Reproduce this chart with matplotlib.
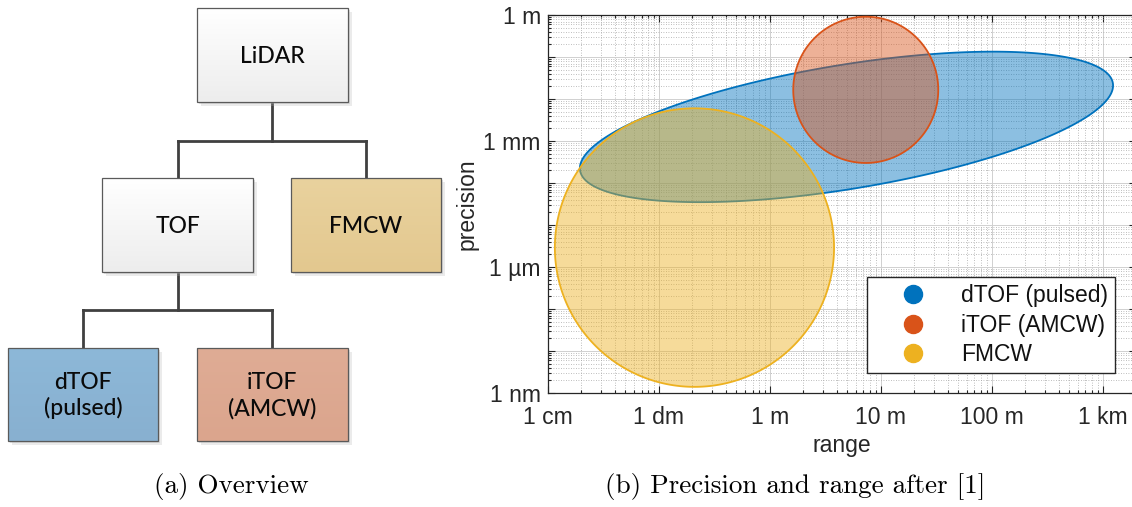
import numpy as np
import matplotlib
matplotlib.use("Agg")
import matplotlib.pyplot as plt
from matplotlib.patches import Rectangle
from matplotlib.lines import Line2D
from matplotlib.colors import LinearSegmentedColormap, to_rgba
from matplotlib.ticker import FixedLocator, LogLocator, NullFormatter, FuncFormatter

# ---------------- data ----------------
techs = ['dTOF (pulsed)', 'iTOF (AMCW)', 'FMCW']
tech_colors = ['#0072BD', '#D95319', '#EDB120']
range_min_m = [0.0195, 1.63, 0.0116]
range_max_m = [1240.0, 33.0, 3.8]
precision_min_m = [3.5e-5, 3.0e-4, 1.4e-9]
precision_max_m = [0.134, 0.91, 6.0e-3]
tilt = [0.55, 0.0, 0.0]

x_tick_values = [0.01, 0.1, 1, 10, 100, 1000]
x_tick_labels = ['1 cm', '1 dm', '1 m', '10 m', '100 m', '1 km']
y_tick_values = [1e-9, 1e-6, 1e-3, 1]
y_tick_labels = ['1 nm', '1 µm', '1 mm', '1 m']

tree_nodes = ['LiDAR', 'TOF', 'FMCW', 'dTOF\n(pulsed)', 'iTOF\n(AMCW)']
captions = ['(a) Overview', '(b) Precision and range after [1]']

# ---------------- figure ----------------
W, H = 1132, 507
fig = plt.figure(figsize=(W / 100, H / 100), dpi=100)

# overlay axes in pixel coordinates for the diagram
ax0 = fig.add_axes([0, 0, 1, 1])
ax0.set_xlim(0, W)
ax0.set_ylim(H, 0)
ax0.axis('off')

# layout (pixels): x0, x1, y0, y1, top colour, bottom colour
box_layout = [
    (196.7, 347.7, 8.3, 102.3, '#FFFFFF', '#EDEDED'),
    (101.7, 253.3, 178.3, 272.3, '#FFFFFF', '#EDEDED'),
    (290.7, 441.0, 178.3, 272.3, '#E9D29E', '#E3C88F'),
    (7.7, 158.3, 348.3, 441.0, '#8DB8D8', '#88B0D0'),
    (196.7, 347.7, 348.3, 441.0, '#DFAC95', '#DBA58D'),
]
grad = np.linspace(0, 1, 100).reshape(-1, 1)
for (x0, x1, y0, y1, ctop, cbot), label in zip(box_layout, tree_nodes):
    for off, a in [(2, 0.35), (4, 0.25)]:
        ax0.add_patch(Rectangle((x0 + off, y0 + off), x1 - x0, y1 - y0,
                                facecolor='#B0B0B0', edgecolor='none', alpha=a, zorder=1))
    cmap = LinearSegmentedColormap.from_list('g', [ctop, cbot])
    ax0.imshow(grad, cmap=cmap, extent=(x0, x1, y1, y0), aspect='auto',
               origin='upper', zorder=2, interpolation='bilinear')
    ax0.add_patch(Rectangle((x0, y0), x1 - x0, y1 - y0, facecolor='none',
                            edgecolor='#5A5A5A', lw=0.9, zorder=3))
    ax0.text((x0 + x1) / 2, (y0 + y1) / 2 + 1, label, ha='center', va='center',
             fontsize=16.5, family='Lato', weight='medium', color='#0A0A0A',
             linespacing=1.25, zorder=4)
ax0.set_xlim(0, W)
ax0.set_ylim(H, 0)

lc = '#404040'
lw = 2.0
# LiDAR -> TOF, FMCW
ax0.plot([272.2, 272.2], [102.3, 140.7], color=lc, lw=lw, zorder=0.5)
ax0.plot([177.5, 365.9], [140.7, 140.7], color=lc, lw=lw, zorder=0.5, solid_capstyle='projecting')
ax0.plot([177.5, 177.5], [140.7, 178.3], color=lc, lw=lw, zorder=0.5)
ax0.plot([365.9, 365.9], [140.7, 178.3], color=lc, lw=lw, zorder=0.5)
# TOF -> dTOF, iTOF
ax0.plot([177.5, 177.5], [272.3, 310.0], color=lc, lw=lw, zorder=0.5)
ax0.plot([83.0, 272.2], [310.0, 310.0], color=lc, lw=lw, zorder=0.5, solid_capstyle='projecting')
ax0.plot([83.0, 83.0], [310.0, 348.3], color=lc, lw=lw, zorder=0.5)
ax0.plot([272.2, 272.2], [310.0, 348.3], color=lc, lw=lw, zorder=0.5)

# captions
ax0.text(231, 487, captions[0], ha='center', va='center', fontsize=19.5, family='cmr10')
ax0.text(795.5, 487, captions[1], ha='center', va='center', fontsize=19.5, family='cmr10')

# ---------------- chart ----------------
left_px, right_px, top_px, bot_px = 547.7, 1136.1, 15.0, 393.0
ax = fig.add_axes([left_px / W, 1 - bot_px / H, (right_px - left_px) / W, (bot_px - top_px) / H])
ax.set_xscale('log')
ax.set_yscale('log')
ax.set_xlim(0.01, 2000)
ax.set_ylim(1e-9, 1)


def ellipse(rmin, rmax, pmin, pmax, rho, n=600):
    lx0, lx1 = np.log10(rmin), np.log10(rmax)
    ly0, ly1 = np.log10(pmin), np.log10(pmax)
    cx, wx = (lx0 + lx1) / 2, (lx1 - lx0) / 2
    cy, hy = (ly0 + ly1) / 2, (ly1 - ly0) / 2
    t = np.linspace(0, 2 * np.pi, n)
    x = cx + wx * np.cos(t)
    y = cy + hy * (rho * np.cos(t) + np.sqrt(1 - rho ** 2) * np.sin(t))
    return 10 ** x, 10 ** y


for i, (name, c) in enumerate(zip(techs, tech_colors)):
    xs, ys = ellipse(range_min_m[i], range_max_m[i], precision_min_m[i], precision_max_m[i], tilt[i])
    ax.fill(xs, ys, facecolor=to_rgba(c, 0.45), edgecolor=c, lw=1.3, zorder=3 + i)

# ticks
ax.xaxis.set_major_locator(FixedLocator(x_tick_values))


def xfmt(v, p):
    for tv, tl in zip(x_tick_values, x_tick_labels):
        if abs(np.log10(v) - np.log10(tv)) < 1e-6:
            return tl
    return ''


ax.xaxis.set_major_formatter(FuncFormatter(xfmt))
ax.xaxis.set_minor_locator(LogLocator(base=10, subs=np.arange(2, 10), numticks=20))
ax.xaxis.set_minor_formatter(NullFormatter())

y_major = [10.0 ** k for k in range(-9, 1)]
ax.yaxis.set_major_locator(FixedLocator(y_major))


def yfmt(v, p):
    for tv, tl in zip(y_tick_values, y_tick_labels):
        if abs(np.log10(v) - np.log10(tv)) < 1e-6:
            return tl
    return ''


ax.yaxis.set_major_formatter(FuncFormatter(yfmt))
ax.yaxis.set_minor_locator(LogLocator(base=10, subs=np.arange(2, 10), numticks=20))
ax.yaxis.set_minor_formatter(NullFormatter())

tick_col = '#262626'
fs = 16.5
ax.tick_params(which='both', direction='in', top=True, right=True, colors=tick_col,
               labelsize=fs, width=0.8)
ax.tick_params(which='major', length=5)
ax.tick_params(which='minor', length=2.5)
ax.tick_params(axis='x', pad=9)
ax.tick_params(axis='y', pad=5)
for lab in ax.get_xticklabels() + ax.get_yticklabels():
    lab.set_family('Liberation Sans')
for s in ax.spines.values():
    s.set_color(tick_col)
    s.set_linewidth(0.9)

ax.grid(True, which='major', color='#D0D0D0', lw=0.7, ls='-', zorder=0)
ax.grid(True, which='minor', color='#A8A8A8', lw=0.6, ls=(0, (1, 2)), zorder=0)
ax.set_axisbelow(True)

ax.set_xlabel('range', fontsize=fs, family='Liberation Sans', color=tick_col)
ax.set_ylabel('precision', fontsize=fs, family='Liberation Sans', color=tick_col)
ax.xaxis.set_label_coords(0.5, -0.108)
ax.yaxis.set_label_coords(-0.118, 0.5)

handles = [Line2D([], [], marker='o', ls='none', markersize=13, markerfacecolor=c,
                  markeredgecolor=c) for c in tech_colors]
leg = ax.legend(handles, techs, loc='lower right', bbox_to_anchor=(0.964, 0.053),
                borderaxespad=0, fancybox=False, framealpha=1, edgecolor='#262626',
                prop={'family': 'Liberation Sans', 'size': fs}, handlelength=3.45,
                handletextpad=0.35, labelspacing=0.28, borderpad=0.3)
leg.get_frame().set_linewidth(1.0)
leg.set_zorder(10)
for t in leg.get_texts():
    t.set_color('#111111')

fig.savefig('out.png', dpi=100)
